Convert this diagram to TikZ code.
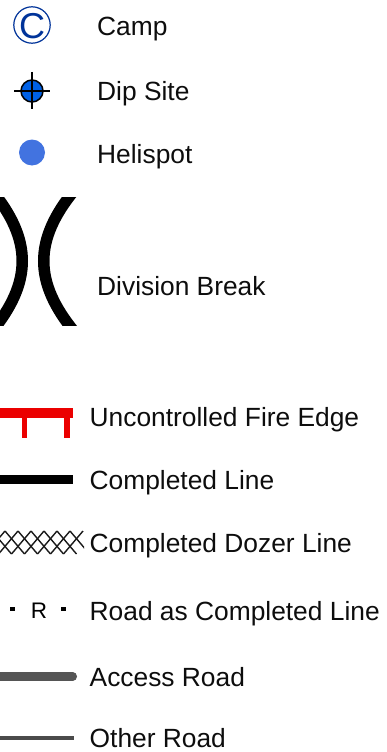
\documentclass[tikz,border=0pt]{standalone}
\usepackage{fontspec}
\setmainfont{Liberation Sans}
\definecolor{campblue}{RGB}{0,51,153}
\definecolor{dipblue}{RGB}{0,97,230}
\definecolor{heliblue}{RGB}{66,115,224}
\definecolor{fire}{RGB}{235,0,0}
\definecolor{accessgrey}{RGB}{85,85,85}
\definecolor{othergrey}{RGB}{75,75,75}
\tikzset{
  legendlabel/.style={anchor=base west,inner sep=0pt,font=\fontsize{26.35}{30}\selectfont,text=black!95},
  hatchline/.style={black!90,line width=1.4pt},
}
\begin{document}
\begin{tikzpicture}[x=1pt,y=-1pt,line join=miter]
\useasboundingbox (0,0) rectangle (386,752);
% Camp
\draw[campblue,line width=1.2pt] (32,25) circle (18.2);
\node[inner sep=0pt,text=campblue,font=\fontsize{36}{36}\selectfont] (campc) at (32,26) {C};
\node[legendlabel] (camp) at (97,36) {Camp};
% Dip site
\fill[dipblue] (32,91) circle (11);
\draw[black,line width=1.5pt] (32,91) circle (11);
\draw[black,line width=1.3pt] (14,91) -- (50,91) (32,72) -- (32,109);
\node[legendlabel] (dip) at (97,100) {Dip Site};
% Helispot
\fill[heliblue] (32,152.5) circle (13);
\node[legendlabel] (heli) at (97,163) {Helispot};
% Division break
\begin{scope}
\clip (-1,197) rectangle (90,325);
\draw[black,line width=11.5pt] (-8.5,190) .. controls (32.5,240) and (32.5,282) .. (-8.5,332);
\draw[black,line width=11.5pt] (74.5,190) .. controls (33.5,240) and (33.5,282) .. (74.5,332);
\end{scope}
\node[legendlabel] (div) at (97,295) {Division Break};
% Fire edge
\fill[fire] (0,407.7) rectangle (73,418.3);
\fill[fire] (22,418) rectangle (27.3,437.7);
\fill[fire] (64.3,418) rectangle (69.7,437.7);
\node[legendlabel] (fireedge) at (89.5,426.9) {Uncontrolled Fire Edge};
% Completed line
\fill[black] (0,475) rectangle (73,483.5);
\node[legendlabel] (done) at (89.5,489.1) {Completed Line};
% Dozer line
\begin{scope}
\clip (0,525) rectangle (84,560);
\foreach \s in {-21,-8,...,70} {\draw[hatchline] (\s,531) -- ++(19.5,23);}
\foreach \s in {5,18,...,83} {\draw[hatchline] (\s,531) -- ++(-19.5,23);}
\end{scope}
\node[legendlabel] (dozer) at (89.5,552.7) {Completed Dozer Line};
% Road
\fill[black] (10,607) rectangle (15,610.5);
\fill[black] (61,607) rectangle (66,610.5);
\node[inner sep=0pt,anchor=base,font=\fontsize{22.5}{23}\selectfont] (r) at (39,618) {R};
\node[legendlabel] (road) at (89.5,620.1) {Road as Completed Line};
% Access
\draw[accessgrey,line width=8.7pt,line cap=round] (-6,676.5) -- (72.7,676.5);
\node[legendlabel] (access) at (89.5,686.1) {Access Road};
% Other
\draw[othergrey,line width=3.1pt] (-2,738) -- (74,738);
\node[legendlabel] (other) at (89.5,747.9) {Other Road};
\end{tikzpicture}
\end{document}
